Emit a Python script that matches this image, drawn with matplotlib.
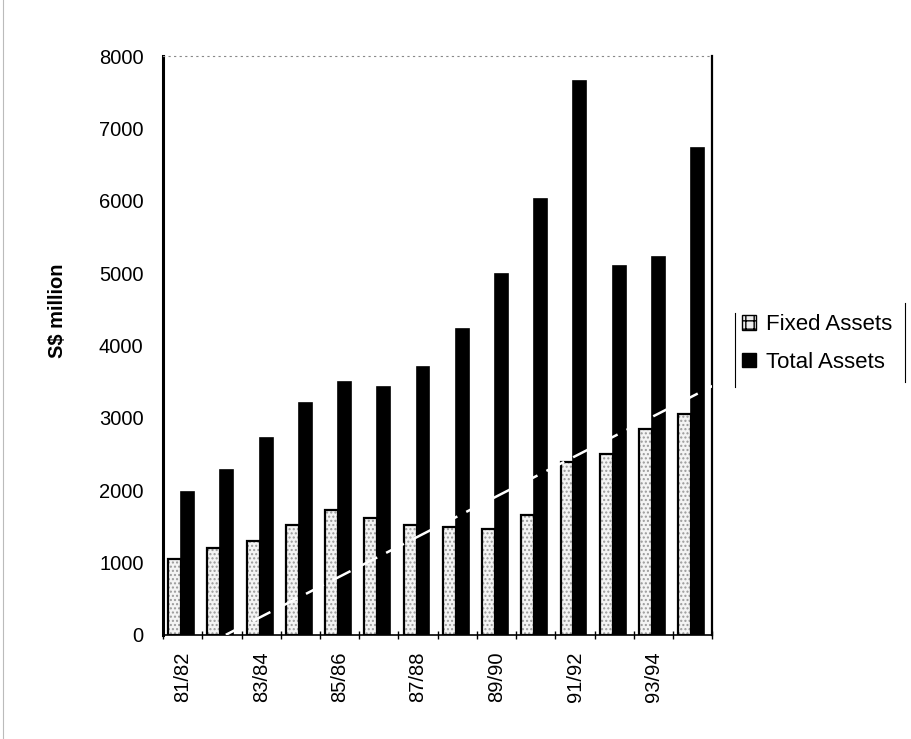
import numpy as np
import matplotlib
matplotlib.use("Agg")
import matplotlib.pyplot as plt
from matplotlib.lines import Line2D
from matplotlib.patches import Patch

plt.rcParams['font.family'] = ['Liberation Sans', 'DejaVu Sans']

# data
years = ["81/82", "82/83", "83/84", "84/85", "85/86", "86/87", "87/88",
         "88/89", "89/90", "90/91", "91/92", "92/93", "93/94", "94/95"]
fixed_assets = [1050, 1200, 1300, 1520, 1720, 1610, 1520,
                1490, 1460, 1650, 2390, 2500, 2850, 3050]
total_assets = [1970, 2280, 2720, 3200, 3500, 3430, 3700,
                4230, 4990, 6020, 7650, 5100, 5230, 6730]
# faint white streak across the bars in the scan (start/end)
streak_x = [1.1, 13.9]
streak_y = [0, 3550]

fig = plt.figure(figsize=(9.11, 7.39), dpi=100)
ax = fig.add_axes([0.179, 0.141, 0.603, 0.783])

x = np.arange(len(years))
w = 0.33
# fixed assets: light speckled bars
ax.bar(x - w/2 - 0.04, fixed_assets, width=w, color='#f4f4f4', edgecolor='#9a9a9a',
       hatch='....', linewidth=0, zorder=2)
ax.bar(x - w/2 - 0.04, fixed_assets, width=w, color='none', edgecolor='black',
       linewidth=1.6, zorder=3)
ax.bar(x + w/2 - 0.04, total_assets, width=w, color='black', edgecolor='black',
       linewidth=1.2, zorder=3)
ax.plot(streak_x, streak_y, color='white', lw=1.8, ls=(0, (8, 4)), zorder=4)

ax.set_xlim(-0.5, len(years) - 0.5)
ax.set_ylim(0, 8000)
ax.set_yticks(range(0, 8001, 1000))
ax.tick_params(axis='y', length=0, labelsize=14.5, pad=14)

ax.set_xticks(x[::2])
ax.set_xticklabels(years[::2], rotation=90, fontsize=14.5)
ax.tick_params(axis='x', length=0, pad=12)
ax.set_xticks(np.arange(-0.5, len(years), 1), minor=True)
ax.tick_params(axis='x', which='minor', length=6, direction='inout', width=1)

ax.spines['left'].set_linewidth(2.2)
ax.spines['bottom'].set_linewidth(1.2)
ax.spines['right'].set_linewidth(1.6)
ax.spines['top'].set_linestyle((0, (1, 4)))
ax.spines['top'].set_color('#888888')
ax.spines['top'].set_linewidth(0.8)

ax.set_ylabel('S$ million', fontsize=14.5, fontweight='bold')
ax.yaxis.set_label_coords(-0.175, 0.56)

handles = [Patch(facecolor='#eeeeee', edgecolor='black', hatch='++', label='Fixed Assets'),
           Patch(facecolor='black', edgecolor='black', label='Total Assets')]
leg = fig.legend(handles=handles, loc='center left', bbox_to_anchor=(0.793, 0.535),
                 frameon=False, fontsize=16, handlelength=0.6, handleheight=0.6,
                 handletextpad=0.45, labelspacing=0.75)
fig.add_artist(Line2D([0.807, 0.807], [0.476, 0.576], color='black', lw=0.8))
fig.add_artist(Line2D([0.993, 0.993], [0.483, 0.59], color='black', lw=0.8))
fig.add_artist(Line2D([0.003, 0.003], [0.0, 1.0], color='#bbbbbb', lw=0.8))

fig.savefig('out.png', dpi=100)
